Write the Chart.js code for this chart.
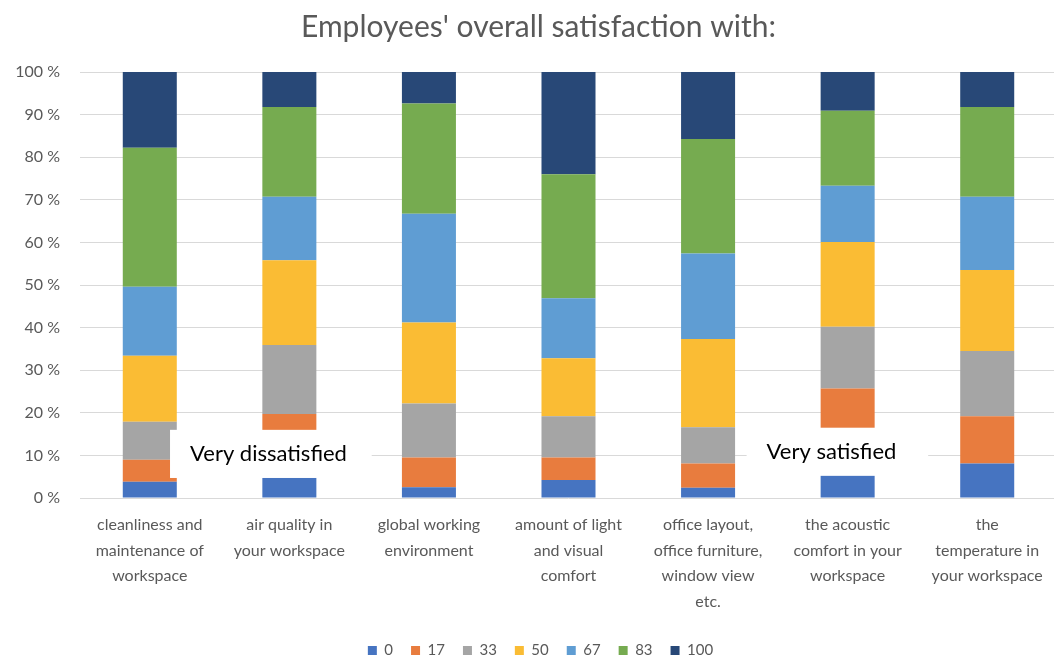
<!DOCTYPE html>
<html>
<head>
<meta charset="utf-8">
<script src="https://cdn.jsdelivr.net/npm/chart.js@4/dist/chart.umd.min.js"></script>
<style>
  html, body { margin: 0; padding: 0; background: #ffffff; overflow: hidden; }
  #wrap { width: 1062px; height: 658px; }
</style>
</head>
<body>
<div id="wrap"><canvas id="c" width="1062" height="658"></canvas></div>
<script>
// ---- data ----
const categories = [
  ["cleanliness and", "maintenance of", "workspace"],
  ["air quality in", "your workspace"],
  ["global working", "environment"],
  ["amount of light", "and visual", "comfort"],
  ["office layout,", "office furniture,", "window view", "etc."],
  ["the acoustic", "comfort in your", "workspace"],
  ["the", "temperature in", "your workspace"]
];
const seriesNames = ["0", "17", "33", "50", "67", "83", "100"];
const s0   = [3.8, 5.5, 2.5, 4.2, 2.4, 5.5, 8.1];
const s17  = [5.2, 14.2, 7.0, 5.3, 5.7, 20.2, 11.1];
const s33  = [8.9, 16.2, 12.7, 9.7, 8.5, 14.5, 15.3];
const s50  = [15.5, 19.9, 19.0, 13.6, 20.7, 19.9, 19.0];
const s67  = [16.2, 14.9, 25.5, 14.1, 20.1, 13.2, 17.2];
const s83  = [32.6, 21.1, 25.9, 29.1, 26.9, 17.6, 21.1];
const s100 = [17.9, 8.2, 7.4, 24.0, 15.7, 9.1, 8.2];
const yTicks = [0, 10, 20, 30, 40, 50, 60, 70, 80, 90, 100];
const titleText = "Employees' overall satisfaction with:";
const noteTexts = ["Very dissatisfied", "Very satisfied"];

// ---- styles ----
const colors = ["#4674C1", "#E87C3E", "#A5A5A5", "#FABC34", "#5F9DD3", "#76AB50", "#284877"];
const allSeries = [s0, s17, s33, s50, s67, s83, s100];
const FONT = "Lato, 'Open Sans', sans-serif";
const TXT = "#595959";

// note boxes placed in scale units (category index, percent)
const notes = [
  { text: noteTexts[0], x0: 0.145, x1: 1.59, yTop: 16.0, yBot: 4.7 },
  { text: noteTexts[1], x0: 4.276, x1: 5.577, yTop: 16.5, yBot: 5.2 }
];

const notePlugin = {
  id: 'notes',
  afterLayout(chart) {
    const lg = chart.legend;
    if (lg) { lg.left += 12; lg.right += 12; lg.top += 10; lg.bottom += 10; }
    const tb = chart.titleBlock;
    if (tb) { tb.left += 10; tb.right += 10; }
  },
  afterDatasetsDraw(chart) {
    const ctx = chart.ctx;
    const xs = chart.scales.x, ys = chart.scales.y;
    const step = xs.getPixelForValue(1) - xs.getPixelForValue(0);
    const base = xs.getPixelForValue(0);
    ctx.save();
    notes.forEach(n => {
      const l = base + n.x0 * step, r = base + n.x1 * step;
      const t = ys.getPixelForValue(n.yTop), b = ys.getPixelForValue(n.yBot);
      ctx.fillStyle = "#ffffff";
      ctx.fillRect(l, t, r - l, b - t);
      ctx.fillStyle = "#000000";
      ctx.font = "22px " + FONT;
      ctx.textBaseline = "middle";
      ctx.textAlign = "left";
      ctx.fillText(n.text, l + 20, (t + b) / 2);
    });
    ctx.restore();
  }
};

new Chart(document.getElementById('c'), {
  type: 'bar',
  data: {
    labels: categories,
    datasets: seriesNames.map((name, i) => ({
      label: name,
      data: allSeries[i],
      backgroundColor: colors[i],
      borderWidth: 0,
      barPercentage: 0.387,
      categoryPercentage: 1.0
    }))
  },
  options: {
    responsive: false,
    animation: false,
    layout: { padding: { left: 0, right: 5, top: 0, bottom: 0 } },
    plugins: {
      tooltip: { enabled: false },
      title: {
        display: true,
        text: titleText,
        color: TXT,
        font: { family: FONT, size: 30, weight: 'normal', lineHeight: 1.2 },
        padding: { top: 9, bottom: 27 }
      },
      legend: {
        display: true,
        position: 'bottom',
        labels: {
          boxWidth: 9,
          boxHeight: 9,
          color: TXT,
          font: { family: FONT, size: 15 },
          padding: 18
        }
      }
    },
    scales: {
      x: {
        stacked: true,
        grid: { display: false, drawTicks: false },
        border: { display: false },
        ticks: {
          color: TXT,
          font: { family: FONT, size: 16, lineHeight: 1.6 },
          padding: 14,
          maxRotation: 0,
          autoSkip: false
        },
        afterFit(scale) { scale.height = 117; }
      },
      y: {
        stacked: true,
        min: 0,
        max: 100,
        afterBuildTicks(scale) { scale.ticks = yTicks.map(v => ({ value: v })); },
        grid: { color: "#d9d9d9", lineWidth: 1, drawTicks: false },
        border: { display: false },
        ticks: {
          color: TXT,
          font: { family: FONT, size: 16 },
          padding: 20,
          callback: v => v + " %"
        },
        afterFit(scale) { scale.width = 80; }
      }
    }
  },
  plugins: [notePlugin]
});
</script>
</body>
</html>
